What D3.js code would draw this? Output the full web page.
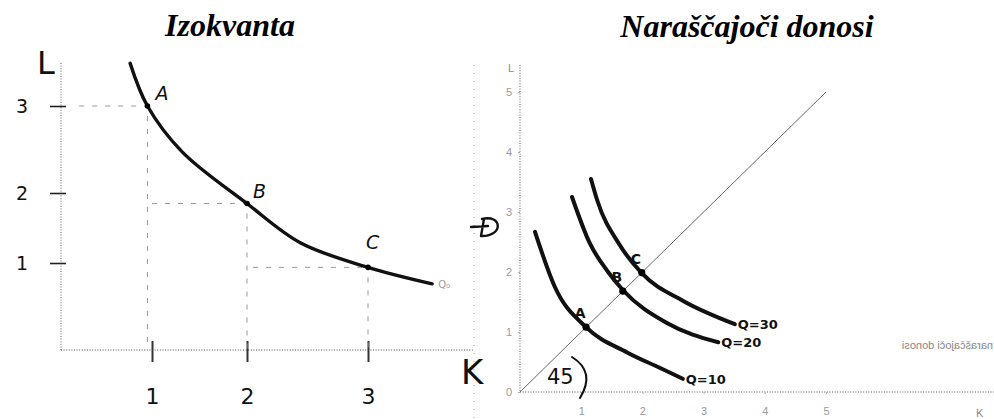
<!DOCTYPE html>
<html>
<head>
<meta charset="utf-8">
<script src="https://cdn.jsdelivr.net/npm/d3@7"></script>
<style>
  html, body { margin: 0; padding: 0; background: #fff; }
  svg { display: block; }
  .title { font-family: "Liberation Serif", "Times New Roman", serif; font-weight: bold; font-style: italic; font-size: 32px; fill: #000; }
  .hand { font-family: "DejaVu Sans", "Liberation Sans", sans-serif; fill: #111; }
  .small { font-family: "Liberation Sans", Arial, sans-serif; font-size: 11px; fill: #888; }
</style>
</head>
<body>
<svg id="chart" width="994" height="419"></svg>
<script>
// ---- Left panel: a single isoquant Q0 ----
const isoK = [0.76, 0.95, 1.32, 2.0, 2.44, 3.0, 3.53];
const isoL = [3.49, 3.0, 2.47, 1.85, 1.29, 0.95, 0.76];
const pointNames = ["A", "B", "C"];
const pointK = [0.95, 2.0, 3.0];
const pointL = [3.0, 1.85, 0.95];
const guideStartK = [0.2, 1.0, 2.05];   // where each horizontal guide begins
const leftTicks = [1, 2, 3];

// ---- Right panel: increasing returns to scale ----
const rightTicks = [0, 1, 2, 3, 4, 5];
const rightXTicks = [1, 2, 3, 4, 5];
const q10K = [0.245, 0.57, 1.08, 1.75, 2.29, 2.66];
const q10L = [2.67, 1.75, 1.08, 0.66, 0.40, 0.22];
const q20K = [0.85, 1.14, 1.44, 1.68, 2.40, 3.24];
const q20L = [3.25, 2.48, 2.0, 1.70, 1.15, 0.83];
const q30K = [1.16, 1.26, 1.63, 1.99, 2.66, 3.51];
const q30L = [3.55, 3.2, 2.45, 1.98, 1.52, 1.13];
const curveLabels = ["Q=10", "Q=20", "Q=30"];
const diagPoints = ["A", "B", "C"];
const diagValues = [1.08, 1.68, 1.99];
const rayEnd = 5;

const svg = d3.select("#chart");

// Titles
svg.append("text").attr("class", "title").attr("x", 230).attr("y", 36)
  .attr("text-anchor", "middle").text("Izokvanta");
svg.append("text").attr("class", "title").attr("x", 747).attr("y", 37)
  .attr("text-anchor", "middle").text("Naraščajoči donosi");

// ===== Left panel =====
// hand-drawn axis: uneven spacing between the unit marks
const xL = d3.scaleLinear().domain([0, 1, 2, 3]).range([61, 152, 247, 368]);
const yL = d3.scaleLinear().domain([0, 1, 2, 3]).range([350, 263, 193, 106]);

const gL = svg.append("g");
const dotted = sel => sel.attr("stroke", "#8a8a8a").attr("stroke-width", 1.4)
  .attr("stroke-dasharray", "1,1.6").attr("fill", "none");

// frame: left axis, bottom axis, right border
gL.append("line").attr("x1", xL(0)).attr("x2", xL(0)).attr("y1", 63).attr("y2", yL(0)).call(dotted);
gL.append("line").attr("x1", xL(0)).attr("x2", 474).attr("y1", yL(0)).attr("y2", yL(0)).call(dotted);
gL.append("line").attr("x1", 474).attr("x2", 474).attr("y1", 65).attr("y2", 419)
  .attr("stroke", "#aaa").attr("stroke-width", 1.2).attr("stroke-dasharray", "1,7");

// axes built from the scales, restyled to look hand-drawn
const axL = gL.append("g").attr("transform", `translate(${xL(0)},0)`)
  .call(d3.axisLeft(yL).tickValues(leftTicks).tickSize(0).tickPadding(33)
    .tickFormat(d3.format("d")));
axL.select(".domain").remove();
axL.selectAll(".tick line").attr("x1", -11).attr("x2", 5)
  .attr("stroke", "#222").attr("stroke-width", 1.6);
axL.selectAll(".tick text").attr("font-size", 19)
  .attr("font-family", "DejaVu Sans").attr("fill", "#111");

const axB = gL.append("g").attr("transform", `translate(0,${yL(0)})`)
  .call(d3.axisBottom(xL).tickValues(leftTicks).tickSize(0).tickPadding(38)
    .tickFormat(d3.format("d")));
axB.select(".domain").remove();
axB.selectAll(".tick line").attr("y1", -9).attr("y2", 12)
  .attr("stroke", "#333").attr("stroke-width", 2);
axB.selectAll(".tick text").attr("font-size", 22)
  .attr("font-family", "DejaVu Sans").attr("fill", "#111");

gL.append("text").attr("class", "hand").attr("x", 37).attr("y", 74)
  .attr("font-size", 32).text("L");
gL.append("text").attr("class", "hand").attr("x", 461).attr("y", 384)
  .attr("font-size", 34).text("K");

// dashed guides from each point to the axes
const pts = pointNames.map((n, i) => ({ n, k: pointK[i], l: pointL[i], h: guideStartK[i] }));
const guide = sel => sel.attr("stroke", "#999").attr("stroke-width", 1)
  .attr("stroke-dasharray", "5,8");
gL.selectAll(".hg").data(pts).join("line")
  .attr("x1", d => xL(d.h)).attr("x2", d => xL(d.k) - 2)
  .attr("y1", d => yL(d.l)).attr("y2", d => yL(d.l)).call(guide);
gL.selectAll(".vg").data(pts).join("line")
  .attr("x1", d => xL(d.k)).attr("x2", d => xL(d.k))
  .attr("y1", d => yL(d.l) + 10).attr("y2", yL(0)).call(guide);

// the isoquant
const isoData = isoK.map((k, i) => [k, isoL[i]]);
gL.append("path").datum(isoData)
  .attr("d", d3.line().x(d => xL(d[0])).y(d => yL(d[1])).curve(d3.curveCatmullRom.alpha(0.5)))
  .attr("fill", "none").attr("stroke", "#111").attr("stroke-width", 3.4)
  .attr("stroke-linecap", "round");
gL.selectAll(".pt").data(pts).join("circle")
  .attr("cx", d => xL(d.k)).attr("cy", d => yL(d.l)).attr("r", 2.8).attr("fill", "#000");
const ptOffset = { A: [8, -6], B: [6, -6], C: [-2, -18] };
gL.selectAll(".pl").data(pts).join("text").attr("class", "hand")
  .attr("x", d => xL(d.k) + ptOffset[d.n][0]).attr("y", d => yL(d.l) + ptOffset[d.n][1])
  .attr("font-size", 19).attr("font-style", "italic").attr("font-weight", 300).text(d => d.n);
gL.append("text").attr("x", xL(isoK[isoK.length - 1]) + 6).attr("y", yL(isoL[isoL.length - 1]) + 4)
  .attr("font-size", 10).attr("fill", "#999").attr("font-family", "DejaVu Sans").text("Q₀");

// ===== Right panel =====
const xR = d3.scaleLinear().domain([0, 5]).range([520, 826]);
const yR = d3.scaleLinear().domain([0, 5]).range([392, 92]);
const gR = svg.append("g");

gR.append("line").attr("x1", xR(0)).attr("x2", xR(0)).attr("y1", 65).attr("y2", yR(0)).call(dotted);
gR.append("line").attr("x1", xR(0)).attr("x2", 994).attr("y1", yR(0)).attr("y2", yR(0)).call(dotted);

const axRY = gR.append("g").attr("transform", `translate(${xR(0)},0)`)
  .call(d3.axisLeft(yR).tickValues(rightTicks).tickSize(2).tickPadding(6).tickFormat(d3.format("d")));
axRY.select(".domain").remove();
axRY.selectAll(".tick line").attr("stroke", "#aaa");
axRY.selectAll(".tick text").attr("font-size", 11).attr("fill", "#999")
  .attr("font-family", "Liberation Sans");

const axRX = gR.append("g").attr("transform", `translate(0,${yR(0)})`)
  .call(d3.axisBottom(xR).tickValues(rightXTicks).tickSize(2).tickPadding(13).tickFormat(d3.format("d")));
axRX.select(".domain").remove();
axRX.selectAll(".tick line").attr("stroke", "#aaa");
axRX.selectAll(".tick text").attr("font-size", 11).attr("fill", "#999")
  .attr("font-family", "Liberation Sans");

gR.append("text").attr("class", "small").attr("x", xR(0) - 12).attr("y", 72).attr("font-size", 12).text("L");
gR.append("text").attr("class", "small").attr("x", 976).attr("y", 417).attr("font-size", 16).text("K");

// 45° ray through the origin
gR.append("line").attr("x1", xR(0)).attr("y1", yR(0)).attr("x2", xR(rayEnd)).attr("y2", yR(rayEnd))
  .attr("stroke", "#555").attr("stroke-width", 0.9);

// isoquants
const curves = [[q10K, q10L], [q20K, q20L], [q30K, q30L]].map(([ks, ls], i) => ({
  label: curveLabels[i],
  pts: ks.map((k, j) => [k, ls[j]])
}));
const lineR = d3.line().x(d => xR(d[0])).y(d => yR(d[1])).curve(d3.curveMonotoneX);
gR.selectAll(".iso").data(curves).join("path")
  .attr("d", d => lineR(d.pts)).attr("fill", "none").attr("stroke", "#111")
  .attr("stroke-width", 4).attr("stroke-linecap", "round");
gR.selectAll(".isoLab").data(curves).join("text").attr("class", "hand")
  .attr("x", d => xR(d.pts[d.pts.length - 1][0]) + 3)
  .attr("y", d => yR(d.pts[d.pts.length - 1][1]) + 5)
  .attr("font-size", 13).attr("font-weight", "bold").text(d => d.label);

// points where the ray meets each isoquant
gR.selectAll(".dp").data(diagValues).join("circle")
  .attr("cx", d => xR(d)).attr("cy", d => yR(d)).attr("r", 3.6).attr("fill", "#000");
gR.selectAll(".dl").data(diagValues).join("text").attr("class", "hand")
  .attr("x", d => xR(d) - 6).attr("y", d => yR(d) - 9)
  .attr("font-size", 14).attr("font-weight", "bold").attr("text-anchor", "middle")
  .text((d, i) => diagPoints[i]);

// 45° angle marking
gR.append("text").attr("class", "hand").attr("x", 547).attr("y", 384)
  .attr("font-size", 21).text("45");
const arcPath = d3.path();
arcPath.moveTo(572, 357);
arcPath.quadraticCurveTo(596, 372, 580, 398);
gR.append("path").attr("d", arcPath.toString()).attr("fill", "none")
  .attr("stroke", "#111").attr("stroke-width", 2).attr("stroke-linecap", "round");

// mirrored note on the right
gR.append("text").attr("class", "small")
  .attr("transform", "translate(993,349) scale(-1,1)")
  .attr("font-size", 12.5).attr("fill", "#8a8a8a").text("naraščajoči donosi");

// margin mark between the panels
const mark = d3.path();
mark.moveTo(471, 227); mark.lineTo(488, 226);
mark.moveTo(482, 219); mark.bezierCurveTo(502, 214, 504, 236, 482, 236);
mark.moveTo(484, 219); mark.lineTo(481, 236);
svg.append("path").attr("d", mark.toString()).attr("fill", "none")
  .attr("stroke", "#111").attr("stroke-width", 2.4).attr("stroke-linecap", "round");
</script>
</body>
</html>
